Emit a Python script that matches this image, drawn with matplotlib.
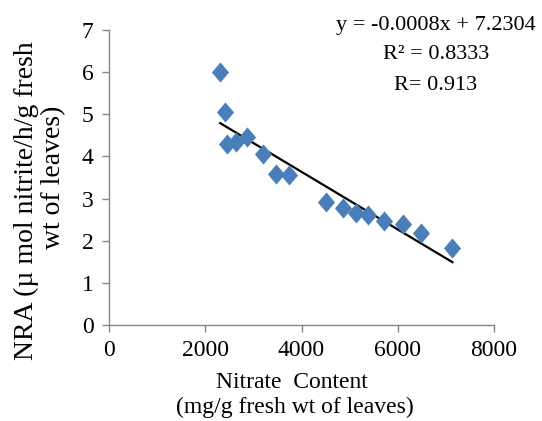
import matplotlib.pyplot as plt
import numpy as np

plt.rcParams['font.family'] = ['Liberation Serif', 'DejaVu Serif']

# data
nitrate = [2310, 2400, 2460, 2640, 2860, 3195, 3470, 3730,
           4500, 4870, 5135, 5390, 5720, 6105, 6480, 7135]
nra = [6.0, 5.05, 4.3, 4.35, 4.45, 4.05, 3.58, 3.55,
       2.92, 2.78, 2.65, 2.6, 2.47, 2.4, 2.18, 1.82]
x_ticks = [0, 2000, 4000, 6000, 8000]
y_ticks = [0, 1, 2, 3, 4, 5, 6, 7]
eq_lines = ['y = -0.0008x + 7.2304', 'R² = 0.8333', 'R= 0.913']

W, H = 542, 421
fig = plt.figure(figsize=(W / 100, H / 100), dpi=100)
ax = fig.add_axes([109 / W, (H - 325) / H, (494 - 109) / W, (325 - 30) / H])

# taller-than-wide diamond like the Excel marker
diamond = [(0, 1), (0.85, 0), (0, -1), (-0.85, 0), (0, 1)]
ax.plot(nitrate, nra, linestyle='none', marker=diamond, markersize=14.5,
        color='#4a7ebb', markeredgewidth=0, zorder=3)

# linear trendline
slope, icpt = np.polyfit(nitrate, nra, 1)
xs = np.array([min(nitrate), max(nitrate)])
ax.plot(xs, slope * xs + icpt, color='black', linewidth=1.6, zorder=2)

ax.set_xlim(0, 8000)
ax.set_ylim(0, 7)
ax.set_xticks(x_ticks)
ax.set_yticks(y_ticks)
ax.spines['top'].set_visible(False)
ax.spines['right'].set_visible(False)
for s in ['left', 'bottom']:
    ax.spines[s].set_color('#868686')
    ax.spines[s].set_linewidth(1.0)
ax.tick_params(axis='both', direction='out', length=5, width=1.0,
               color='#868686', labelsize=17)
ax.tick_params(axis='y', pad=6)
ax.tick_params(axis='x', pad=6)

# x axis title, two lines
fig.text(292 / W, 1 - 388 / H, 'Nitrate  Content',
         ha='center', va='baseline', fontsize=17)
fig.text(295 / W, 1 - 413 / H, '(mg/g fresh wt of leaves)',
         ha='center', va='baseline', fontsize=17)

# y axis title, two lines
fig.text(26 / W, 1 - 201 / H, 'NRA (µ mol nitrite/h/g fresh',
         rotation=90, ha='center', va='center', fontsize=20)
fig.text(54 / W, 1 - 177 / H, 'wt of leaves)',
         rotation=90, ha='center', va='center', fontsize=20)

# trendline equation
for txt, base in zip(eq_lines, [30, 59, 90]):
    fig.text(436 / W, 1 - base / H, txt, ha='center', va='baseline',
             fontsize=16)

fig.savefig('out.png', dpi=100)
